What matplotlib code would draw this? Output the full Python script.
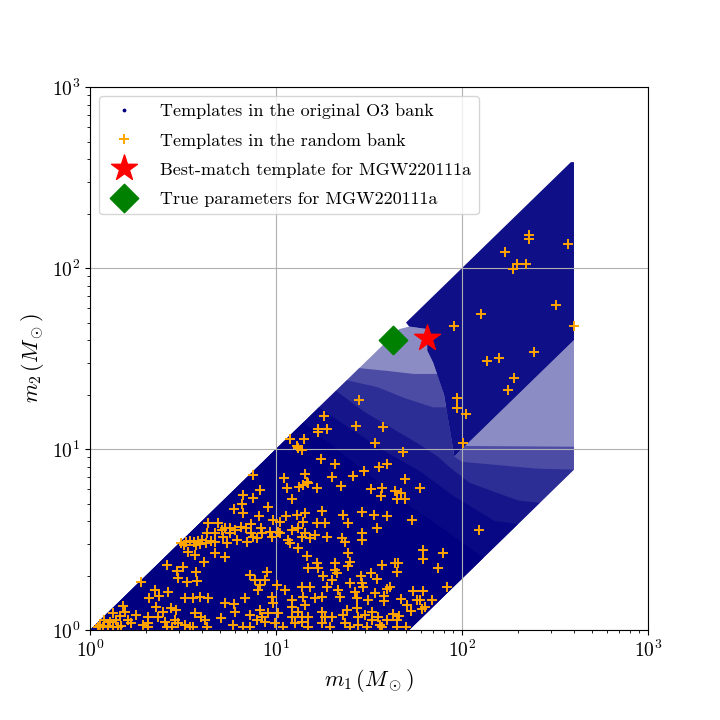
import matplotlib
matplotlib.use("Agg")
import matplotlib.pyplot as plt
from matplotlib.patches import Polygon

plt.rcParams['font.family'] = 'serif'
plt.rcParams['font.serif'] = ['cmr10', 'DejaVu Serif']
plt.rcParams['mathtext.fontset'] = 'cm'
plt.rcParams['axes.unicode_minus'] = False
plt.rcParams['axes.formatter.use_mathtext'] = True

# original O3 bank, outlined as regions (m1, m2) in solar masses
bank_lower = [(1, 1), (46, 46), (52, 47.5), (65, 46), (65, 35), (70, 30), (80, 20), (90.9, 9.09),
              (400, 40), (400, 7.7), (52, 1)]
bank_upper = [(50, 50), (385, 385), (400, 385), (400, 40), (90.9, 9.09), (80, 20),
              (70, 30), (65, 35), (65, 46), (52, 47.5)]
# denser parts of the lower bank, sparsest to densest
bank_level1 = [(1, 1), (28, 28), (40, 27), (55, 26), (74, 26), (80, 20), (90.9, 9.09),
               (104, 10.4), (400, 10.3), (400, 7.7), (52, 1)]
bank_level2 = [(1, 1), (24, 24), (35, 22), (50, 19), (70, 17), (83, 17), (90.9, 9.09),
               (100, 8.5), (250, 7.8), (400, 7.7), (52, 1)]
bank_level3 = [(1, 1), (21, 21), (30, 16), (45, 12.5), (60, 10.5), (75, 9), (85, 8),
               (110, 6.5), (200, 5.2), (262, 5.04), (52, 1)]
bank_level4 = [(1, 1), (17, 17), (25, 13), (40, 9.5), (60, 7.5), (90, 5.5), (150, 4),
               (200, 3.85), (52, 1)]
bank_level5 = [(1, 1), (14, 14), (20, 10.5), (30, 7.5), (50, 5), (80, 3.6), (130, 2.5), (52, 1)]

# random bank
rand_m1 = [229, 229, 372, 170, 198, 221, 188, 320, 126, 90.6, 398, 244, 136, 158, 190, 177,
           94, 94, 105, 101, 48.2, 49.4, 59.4, 43.6, 47.0, 44.7, 49.4, 37.6, 39.5, 37.2, 36.7,
           39.5, 53.8, 123, 61.7, 61.7, 79.1, 43.6, 45.3, 44.7, 74.3, 37.2, 83.0, 41.0, 39.5,
           54.5, 61.7, 38.1, 38.1, 47.0, 57.3, 59.4, 69.0, 50.6, 63.2, 53.2, 42.6, 45.8, 61.0,
           39.5, 44.7, 50.0, 44.7, 37.2,
           27.9, 18.1, 16.8, 16.8, 18.8, 26.9, 11.9, 14.1, 34.1, 13.0, 13.1, 13.8, 17.5, 20.8,
           35.8, 29.7, 7.52, 14.3, 11.0, 20.0, 25.9, 14.7,
           8.20, 11.5, 13.3, 14.0, 14.9, 16.6, 22.4, 32.4, 6.65, 7.52, 12.2, 5.95, 6.56, 6.65,
           9.06, 8.11, 11.3, 13.0, 14.3, 17.7, 22.9, 29.0, 33.6, 4.31, 4.88, 5.13, 5.66, 6.48,
           6.90, 7.34, 9.63, 10.5, 10.3, 10.5, 14.0, 16.6, 18.3, 24.4, 8.30, 8.41, 7.91, 9.28,
           9.52, 12.2, 13.1, 13.8, 14.3, 15.2, 16.2, 18.8, 22.6, 23.5, 29.0, 29.0, 34.9, 11.6,
           11.9, 13.1, 24.4, 4.26, 4.70,
           3.08, 3.28, 3.45, 3.63, 3.81, 4.00, 4.20, 4.47, 4.70, 3.20, 3.72, 3.90, 5.19, 5.45,
           5.66, 6.17, 6.98, 7.52,
           2.59, 3.36, 3.67, 4.10, 3.16, 2.94, 2.97, 3.72, 3.32, 3.76, 7.25, 1.88, 2.24, 2.08,
           2.35, 2.63, 3.24, 3.58, 3.90, 4.31, 5.32, 5.95, 6.81, 1.50, 1.54, 1.33, 1.77, 2.26,
           2.32, 2.47, 2.73, 2.90, 2.53, 2.05, 2.05, 1.60, 1.66, 2.86, 2.97, 3.24, 3.67, 3.95,
           4.15, 5.06, 6.02, 7.25,
           1.10, 1.17, 1.25, 1.33, 1.41, 1.47, 1.93, 2.05, 2.59, 2.76, 3.45, 3.58, 4.26, 5.87,
           6.65, 7.25, 1.19, 1.28, 1.38, 1.45, 1.13, 5.32, 4.70,
           25.0, 24.4, 20.8, 20.8, 21.3, 14.7, 16.6, 16.8, 14.9, 32.4, 8.95, 8.73, 17.9, 28.6,
           29.0, 34.9, 7.71, 8.20, 8.00, 10.1, 11.2, 13.8, 15.2, 18.8, 20.0, 21.5, 25.0, 26.6,
           29.4, 34.1, 9.52, 9.63, 12.2, 12.2, 14.0, 14.3, 16.2, 17.7, 22.1, 27.3, 31.2, 8.20,
           8.41, 7.91, 9.06, 10.3, 12.2, 13.1, 13.8, 14.9, 17.7, 18.3, 20.0, 22.9, 24.1, 27.3,
           27.6, 30.1, 32.8, 35.3, 8.73, 9.88, 10.9, 12.7, 13.8, 14.9, 17.7, 19.5, 23.5, 25.0,
           27.6, 30.8, 32.8, 36.2, 6.02, 7.34, 5.32]
rand_m2 = [152, 145, 136, 122, 105, 105, 99, 62.5, 55.7, 47.8, 47.8, 34.4, 30.6, 31.8, 24.7,
           21.2, 19.1, 16.9, 15.6, 10.8, 9.62, 6.83, 6.09, 5.86, 5.71, 5.29, 5.29, 13.2, 8.26,
           6.09, 5.50, 4.26, 4.05, 3.57, 2.77, 2.47, 2.66, 2.34, 2.34, 2.09, 2.20, 2.29, 1.73,
           1.73, 1.69, 1.64, 1.64, 1.54, 1.45, 1.48, 1.47, 1.47, 1.47, 1.37, 1.34, 1.27, 1.23,
           1.20, 1.31, 1.14, 1.14, 1.04, 1.04, 1.04,
           18.7, 15.2, 12.9, 12.4, 12.9, 13.4, 11.4, 11.4, 10.8, 10.4, 10.1, 9.87, 8.81, 8.26,
           7.95, 7.56, 7.18, 7.28, 6.92, 7.00, 7.09, 6.57,
           5.94, 6.09, 6.17, 6.32, 6.49, 6.09, 6.25, 6.01, 5.57, 5.36, 5.29, 4.66, 4.97, 4.43,
           4.78, 4.26, 4.26, 4.32, 4.43, 4.54, 4.32, 4.49, 4.32, 3.90, 3.90, 3.57, 3.66, 3.71,
           3.66, 3.85, 4.05, 3.95, 3.48, 3.44, 3.95, 3.90, 3.90, 3.90, 3.66, 3.44, 3.22, 3.48,
           3.26, 3.57, 3.66, 3.26, 3.44, 3.22, 3.35, 3.26, 3.22, 3.06, 3.44, 3.14, 3.66, 3.14,
           3.02, 2.84, 2.66, 3.44, 3.44,
           3.02, 3.06, 3.10, 3.06, 3.10, 3.14, 3.02, 3.10, 3.06, 2.95, 2.95, 2.99, 3.26, 3.02,
           3.44, 3.14, 3.06, 3.26,
           2.29, 2.70, 2.60, 2.37, 2.23, 2.12, 1.94, 2.09, 1.84, 1.87, 2.01, 1.84, 1.66, 1.50,
           1.54, 1.62, 1.50, 1.50, 1.52, 1.50, 1.41, 1.39, 1.50, 1.36, 1.26, 1.24, 1.21, 1.34,
           1.18, 1.26, 1.32, 1.29, 1.11, 1.18, 1.09, 1.14, 1.09, 1.14, 1.09, 1.07, 1.24, 1.18,
           1.14, 1.16, 1.26, 1.21,
           1.04, 1.04, 1.05, 1.04, 1.04, 1.05, 1.07, 1.04, 1.04, 1.04, 1.04, 1.04, 1.04, 1.07,
           1.04, 1.04, 1.14, 1.11, 1.14, 1.20, 1.07, 2.53, 2.66,
           2.37, 2.26, 2.34, 2.14, 2.06, 2.56, 2.34, 2.20, 2.20, 2.06, 2.09, 1.89, 1.99, 1.99,
           1.82, 1.91, 1.89, 1.77, 1.66, 1.77, 1.66, 1.73, 1.73, 1.73, 1.89, 1.66, 1.82, 1.62,
           1.73, 1.60, 1.52, 1.41, 1.47, 1.34, 1.52, 1.37, 1.50, 1.52, 1.52, 1.50, 1.47, 1.29,
           1.18, 1.14, 1.24, 1.24, 1.18, 1.26, 1.18, 1.18, 1.26, 1.18, 1.18, 1.21, 1.29, 1.32,
           1.18, 1.21, 1.26, 1.18, 1.11, 1.09, 1.04, 1.09, 1.11, 1.04, 1.09, 1.04, 1.09, 1.04,
           1.07, 1.04, 1.14, 1.07, 3.57, 3.44, 3.66]

best_match = (64.8, 41.1)
true_params = (42.6, 40.0)

fig = plt.figure(figsize=(7.2, 7.2), dpi=100)
ax = fig.add_axes([0.125, 0.125, 0.775, 0.754])

navy = '#000080'
layers = [(bank_lower, 0.45), (bank_level1, 0.45), (bank_level2, 0.4), (bank_level3, 0.5),
          (bank_level4, 0.6), (bank_level5, 1.0), (bank_upper, 0.94)]
for verts, a in layers:
    ax.add_patch(Polygon(verts, closed=True, facecolor=navy, edgecolor='none', alpha=a, zorder=1))

ax.scatter([], [], s=3, c=navy, marker='o', label='Templates in the original O3 bank')
ax.scatter(rand_m1, rand_m2, s=55, marker='+', c='orange', linewidths=1.4,
           label='Templates in the random bank', zorder=2)
ax.scatter([best_match[0]], [best_match[1]], s=380, marker='*', c='red',
           label='Best-match template for MGW220111a', zorder=3)
ax.scatter([true_params[0]], [true_params[1]], s=210, marker='D', c='green',
           label='True parameters for MGW220111a', zorder=3)

ax.set_xscale('log')
ax.set_yscale('log')
ax.set_xlim(1, 1000)
ax.set_ylim(1, 1000)
ax.grid(True, which='major', color='#b0b0b0', linewidth=0.8)
ax.tick_params(labelsize=14)
ax.set_xlabel(r'$m_1\,(M_\odot)$', fontsize=16)
ax.set_ylabel(r'$m_2\,(M_\odot)$', fontsize=16)
ax.legend(loc='upper left', fontsize=13, scatterpoints=1, scatteryoffsets=[0.5],
          labelspacing=0.75, handletextpad=1.0)

fig.savefig('out.png', dpi=100)
